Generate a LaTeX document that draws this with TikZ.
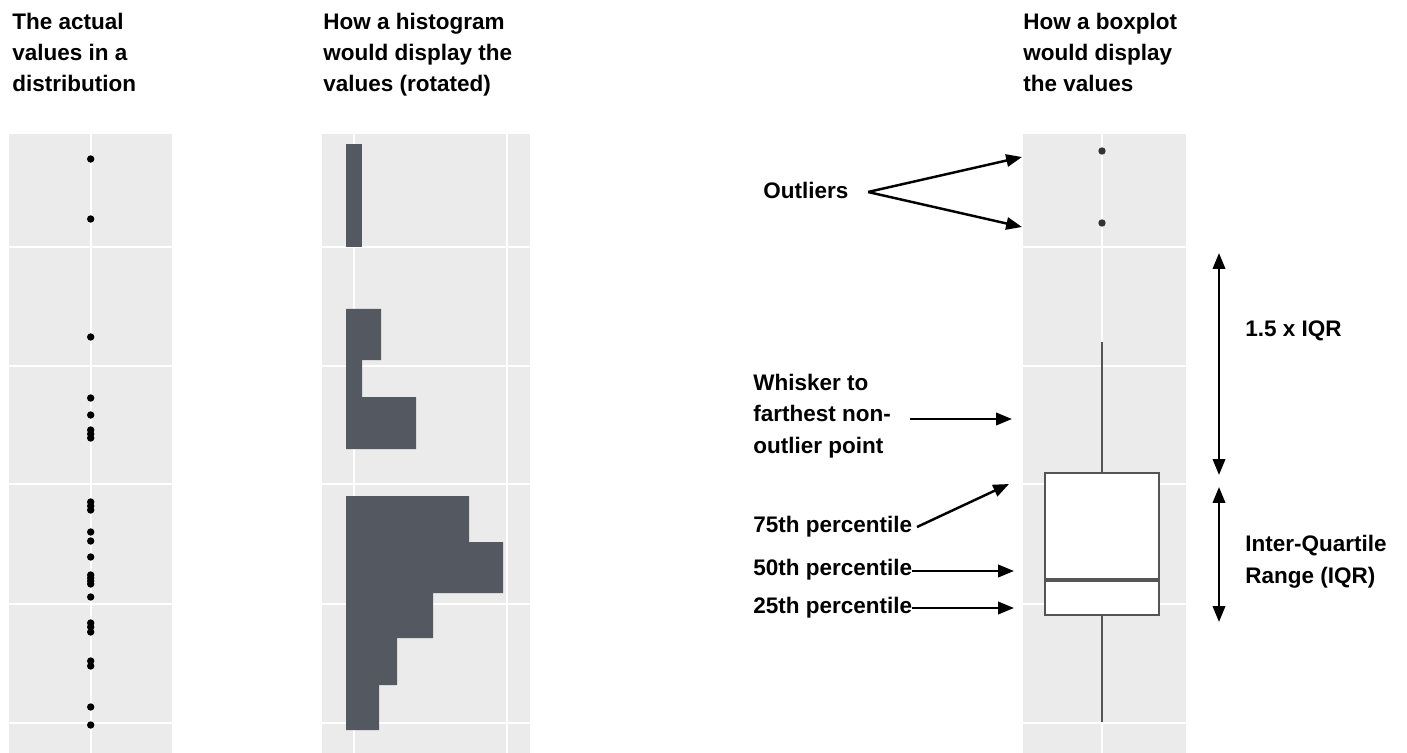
\documentclass[tikz,border=0pt]{standalone}
\usepackage{fontspec}
\setmainfont{Liberation Sans}
\usetikzlibrary{arrows.meta}
\definecolor{panelbg}{HTML}{EBEBEB}
\definecolor{barfill}{HTML}{545861}
\definecolor{boxline}{HTML}{555555}
\definecolor{outdot}{HTML}{333333}
\begin{document}
\begin{tikzpicture}[x=0.02cm,y=-0.02cm,
  lbl/.style={font=\bfseries\fontsize{12.8}{17.8}\selectfont, align=left, anchor=base west, inner sep=0pt},
  gridline/.style={white, line width=1.1pt},
  arr/.style={-{Triangle[length=9pt,width=7pt]}, line width=1.4pt},
  darr/.style={{Triangle[length=9pt,width=7pt]}-{Triangle[length=9pt,width=7pt]}, line width=1.4pt},
  valdot/.style={fill=black},
  boxstroke/.style={draw=boxline, line width=1.1pt}]
\useasboundingbox (0,0) rectangle (1407,753);

% ---------- panel 1: actual values ----------
\fill[panelbg] (9,134) rectangle (172,753);
\draw[gridline] (90.7,134) -- (90.7,753);
\foreach \y in {247,366,484,604,723} \draw[gridline] (9,\y) -- (172,\y);
\foreach \y in {159,219,337,398,415,430,434,438,502,506,510,532,541,557,575,578,581,584,597,623,627,632,661,666,707,725}
  \fill[valdot] (90.7,\y) circle[radius=2.1pt];

% ---------- panel 2: histogram ----------
\fill[panelbg] (322,134) rectangle (530,753);
\foreach \x in {354,507} \draw[gridline] (\x,134) -- (\x,753);
\foreach \y in {247,366,484,604,723} \draw[gridline] (322,\y) -- (530,\y);
\fill[barfill] (346,144) rectangle (362,247);
\fill[barfill] (346,309) -- (381,309) -- (381,360) -- (362,360) -- (362,397) -- (416,397) -- (416,449) -- (346,449) -- cycle;
\fill[barfill] (346,496) -- (469,496) -- (469,542) -- (503,542) -- (503,593) -- (433,593) -- (433,638) -- (397,638) -- (397,685) -- (379,685) -- (379,730) -- (346,730) -- cycle;

% ---------- panel 3: boxplot ----------
\fill[panelbg] (1023,134) rectangle (1186,753);
\draw[gridline] (1102,134) -- (1102,753);
\foreach \y in {247,366,484,604,723} \draw[gridline] (1023,\y) -- (1186,\y);
\fill[outdot] (1102,151) circle[radius=2.1pt];
\fill[outdot] (1102,223) circle[radius=2.1pt];
\draw[boxstroke] (1102,342) -- (1102,473);
\draw[boxstroke] (1102,615) -- (1102,722);
\draw[boxstroke, fill=white] (1045,473) rectangle (1159,615);
\draw[boxstroke, line width=1.8pt] (1045,580) -- (1159,580);

% ---------- titles (anchor = baseline of last line) ----------
\node[lbl] (t1) at (12,92) {The actual\\values in a\\distribution};
\node[lbl] (t2) at (323,92) {How a histogram\\would display the\\values (rotated)};
\node[lbl] (t3) at (1023,92) {How a boxplot\\would display\\the values};

% ---------- annotations ----------
\node[lbl] (out) at (763,199) {Outliers};
\coordinate (outS) at (868,192);
\coordinate (outA) at (1022,157);
\coordinate (outB) at (1022,227);
\draw[arr] (outS) -- (outA);
\draw[arr] (outS) -- (outB);

\node[lbl] (whisk) at (753,453) {Whisker to\\farthest non-\\outlier point};
\coordinate (whS) at (910,419);
\coordinate (whE) at (1012,419);
\draw[arr] (whS) -- (whE);

\node[lbl] (p75) at (753,532) {75th percentile};
\coordinate (p75S) at (917,527);
\coordinate (p75E) at (1009,484);
\draw[arr] (p75S) -- (p75E);

\node[lbl] (p50) at (753,575) {50th percentile};
\coordinate (p50S) at (912,571);
\coordinate (p50E) at (1014,571);
\draw[arr] (p50S) -- (p50E);

\node[lbl] (p25) at (753,613) {25th percentile};
\coordinate (p25S) at (912,608);
\coordinate (p25E) at (1014,608);
\draw[arr] (p25S) -- (p25E);

\coordinate (r1T) at (1219,253);
\coordinate (r1B) at (1219,475);
\coordinate (r2T) at (1219,487);
\coordinate (r2B) at (1219,622);
\draw[darr] (r1T) -- (r1B);
\draw[darr] (r2T) -- (r2B);
\node[lbl] (iqr15) at (1245,337) {1.5 x IQR};
\node[lbl] (iqr) at (1245,583) {Inter-Quartile\\Range (IQR)};
\end{tikzpicture}
\end{document}
